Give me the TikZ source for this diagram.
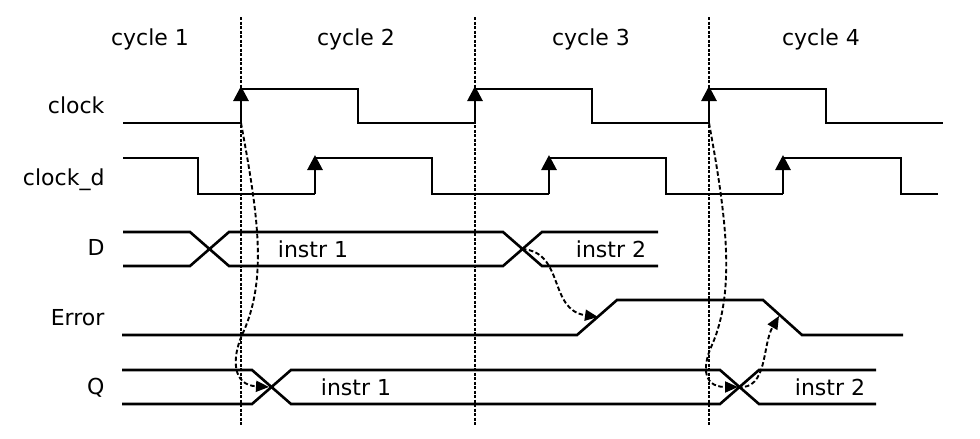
\documentclass[tikz,border=0pt]{standalone}
\usepackage{fontspec}
\setmainfont{DejaVu Sans}
\usetikzlibrary{arrows.meta}

\begin{document}
\begin{tikzpicture}[x=1pt,y=-1pt,
    sig/.style={line width=2.6pt},
    tick/.style={line width=2.8pt,-{Triangle[length=15pt,width=15pt]}},
    grid/.style={line width=1.7pt,dash pattern=on 3pt off 1.5pt},
    flow/.style={line width=1.9pt,dash pattern=on 4.5pt off 2.5pt,-{Triangle[length=13pt,width=11pt]}},
    lbl/.style={font=\fontsize{22}{26}\selectfont,anchor=base east},
    txt/.style={font=\fontsize{22}{26}\selectfont,anchor=base}]
                \useasboundingbox (0,0) rectangle (980,439);
                % Cycle borders
                \coordinate (t1top) at (241,17);  \coordinate (t1bot) at (241,426);
                \coordinate (t2top) at (475,17);  \coordinate (t2bot) at (475,426);
                \coordinate (t3top) at (709,17);  \coordinate (t3bot) at (709,426);
                \draw[grid] (t1top) -- (t1bot);
                \draw[grid] (t2top) -- (t2bot);
                \draw[grid] (t3top) -- (t3bot);

                % Labels
                \node[txt] (cyc1) at (150,45) {cycle 1};
                \node[txt] (cyc2) at (356,45) {cycle 2};
                \node[txt] (cyc3) at (591,45) {cycle 3};
                \node[txt] (cyc4) at (821,45) {cycle 4};
                \node[lbl] (lclk)  at (108,113) {clock};
                \node[lbl] (lclkd) at (108,185) {clock\_d};
                \node[lbl] (lD)    at (108,255) {D};
                \node[lbl] (lerr)  at (108,325) {Error};
                \node[lbl] (lQ)    at (108,394) {Q};
                \node[txt] (dins1) at (313,257) {instr 1};
                \node[txt] (dins2) at (611,257) {instr 2};
                \node[txt] (qins1) at (356,395) {instr 1};
                \node[txt] (qins2) at (830,395) {instr 2};

                % Edges of clock and clock_d
                \coordinate (clkA) at (241,123); \coordinate (clkB) at (475,123); \coordinate (clkC) at (709,123);
                \coordinate (dlyA) at (315,194); \coordinate (dlyB) at (549,194); \coordinate (dlyC) at (783,194);

                % clock
                \draw[sig] (123,123) -- (clkA);
                \draw[tick] (clkA) -- (241,86);
                \draw[sig] (241,89) -- (358,89) -- (358,123) -- (clkB);
                \draw[tick] (clkB) -- (475,86);
                \draw[sig] (475,89) -- (592,89) -- (592,123) -- (clkC);
                \draw[tick] (clkC) -- (709,86);
                \draw[sig] (709,89) -- (826,89) -- (826,123) -- (943,123);

                % clock_d
                \draw[sig] (123,158) -- (198,158) -- (198,194) -- (dlyA);
                \draw[tick] (dlyA) -- (315,155);
                \draw[sig] (315,158) -- (432,158) -- (432,194) -- (dlyB);
                \draw[tick] (dlyB) -- (549,155);
                \draw[sig] (549,158) -- (666,158) -- (666,194) -- (dlyC);
                \draw[tick] (dlyC) -- (783,155);
                \draw[sig] (783,158) -- (901,158) -- (901,194) -- (938,194);

                % D
                \draw[sig] (123,232) -- (190,232) -- (229,266) -- (503,266) -- (542,232) -- (658,232);
                \draw[sig] (123,266) -- (190,266) -- (229,232) -- (503,232) -- (542,266) -- (658,266);
                \coordinate (dx2) at (522,249);

                % Error
                \draw[sig] (122,335) -- (577,335) -- (617,300) -- (763,300) -- (802,335) -- (903,335);
                \coordinate (erise) at (598,317);
                \coordinate (efall) at (779,316);

                % Q
                \draw[sig] (122,370) -- (252,370) -- (291,404) -- (720,404) -- (759,370) -- (876,370);
                \draw[sig] (122,404) -- (252,404) -- (291,370) -- (720,370) -- (759,404) -- (876,404);
                \coordinate (qx1) at (269,387);
                \coordinate (qx2) at (738,387);

                % Dependencies
                \draw[flow] (clkA) .. controls (258,215) and (268,280) .. (242,335)
                                   .. controls (232,358) and (232,385) .. (qx1);
                \draw[flow] (dx2) .. controls (565,252) and (548,310) .. (erise);
                \draw[flow] (clkC) .. controls (726,215) and (736,290) .. (712,345)
                                   .. controls (704,362) and (700,387) .. (qx2);
                \draw[flow] (qx2) .. controls (768,390) and (762,345) .. (efall);
            \end{tikzpicture}
\end{document}
